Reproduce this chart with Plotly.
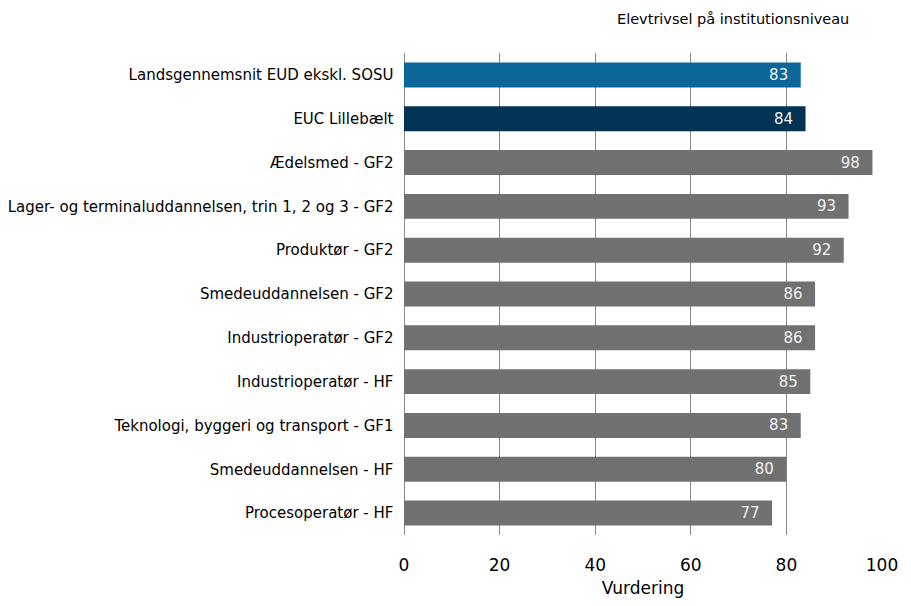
import plotly.graph_objects as go

categories = [
    "Landsgennemsnit EUD ekskl. SOSU",
    "EUC Lillebælt",
    "Ædelsmed - GF2",
    "Lager- og terminaluddannelsen, trin 1, 2 og 3 - GF2",
    "Produktør - GF2",
    "Smedeuddannelsen - GF2",
    "Industrioperatør - GF2",
    "Industrioperatør - HF",
    "Teknologi, byggeri og transport - GF1",
    "Smedeuddannelsen - HF",
    "Procesoperatør - HF",
]
values = [83, 84, 98, 93, 92, 86, 86, 85, 83, 80, 77]
bar_colors = ["#0b6699", "#013354"] + ["#717171"] * 9
x_ticks = [0, 20, 40, 60, 80, 100]

FONT = "Tahoma, Verdana, DejaVu Sans, sans-serif"

fig = go.Figure(go.Bar(
    x=values,
    y=categories,
    orientation="h",
    marker=dict(color=bar_colors, line=dict(width=0)),
    text=[f"{v}\u00a0\u00a0" for v in values],
    textposition="inside",
    insidetextanchor="end",
    textfont=dict(color="#f2f2f2", size=15, family=FONT),
    cliponaxis=False,
    hoverinfo="skip",
))

fig.update_layout(
    width=895, height=590,
    paper_bgcolor="white", plot_bgcolor="white",
    margin=dict(l=396, r=21, t=45, b=63),
    bargap=0.43,
    showlegend=False,
    font=dict(family=FONT, color="#000000"),
    xaxis=dict(
        range=[0, 100],
        tickvals=x_ticks,
        automargin=False,
        showgrid=True, gridcolor="#8a8a8a", gridwidth=1,
        zeroline=True, zerolinecolor="#8a8a8a", zerolinewidth=1,
        showline=False,
        ticks="outside", ticklen=15, tickcolor="rgba(0,0,0,0)",
        tickfont=dict(size=17, family=FONT, color="#000"),
        title=dict(text="Vurdering", font=dict(size=17, family=FONT, color="#000"), standoff=18),
        fixedrange=True,
    ),
    yaxis=dict(
        autorange="reversed",
        automargin=False,
        showgrid=False, showline=False, zeroline=False,
        ticks="", ticksuffix="  ",
        tickfont=dict(size=15, family=FONT, color="#000"),
        fixedrange=True,
    ),
    annotations=[dict(
        text="Elevtrivsel på institutionsniveau",
        xref="paper", yref="paper", x=1.0, y=1.0,
        xanchor="right", yanchor="bottom", yshift=24, xshift=-31,
        showarrow=False, font=dict(size=14.5, family=FONT, color="#000"),
    )],
)

fig.write_html("out.html")
